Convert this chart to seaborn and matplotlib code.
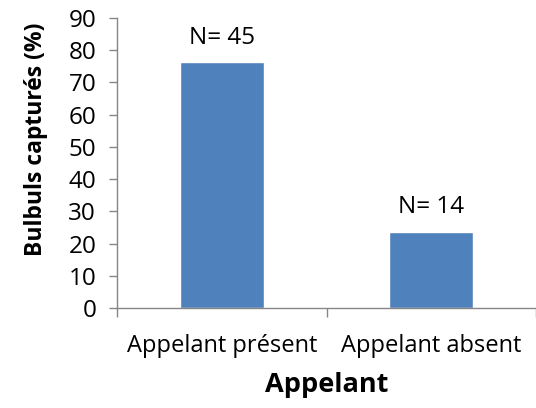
import matplotlib
matplotlib.use("Agg")
import matplotlib.pyplot as plt
import seaborn as sns
import pandas as pd

categories = ["Appelant présent", "Appelant absent"]
pct_captured = [76.3, 23.7]
n_labels = ["N= 45", "N= 14"]
y_ticks = [0, 10, 20, 30, 40, 50, 60, 70, 80, 90]

df = pd.DataFrame({"Appelant": categories, "pct": pct_captured})

sns.set_theme(style="white", rc={"text.color": "black", "axes.labelcolor": "black",
                                 "xtick.color": "black", "ytick.color": "black"})
plt.rcParams["font.family"] = ["Open Sans", "DejaVu Sans"]

fig = plt.figure(figsize=(5.36, 4.08), dpi=100)
ax = fig.add_axes([117 / 536, 100 / 408, 419 / 536, 290 / 408])

sns.barplot(data=df, x="Appelant", y="pct", color="#4F81BD", saturation=1,
            width=0.4, ax=ax)

for i, (v, lab) in enumerate(zip(pct_captured, n_labels)):
    ax.text(i, v + 7.5, lab, ha="center", va="center", fontsize=17.5, color="black")

ax.set_ylim(0, 90)
ax.set_xlim(-0.5, 1.5 - 9 / 214)
ax.set_yticks(y_ticks)
ax.set_xticks([-0.5, 0.5, 1.5], minor=True)

grey = "#868686"
sns.despine(ax=ax)
for s in ["left", "bottom"]:
    ax.spines[s].set_color(grey)
    ax.spines[s].set_linewidth(1)

ax.tick_params(axis="y", which="major", length=6, color=grey, width=1,
               labelsize=17.5, labelcolor="black", pad=9, left=True)
ax.tick_params(axis="x", which="major", length=0, labelsize=17,
               labelcolor="black", pad=19)
ax.tick_params(axis="x", which="minor", length=6.5, color=grey, width=1,
               bottom=True)

ax.set_ylabel("Bulbuls capturés (%)", fontsize=16.5, fontweight="bold")
ax.yaxis.set_label_coords(-0.165, 0.58)
ax.set_xlabel("Appelant", fontsize=19.5, fontweight="bold", labelpad=10)

fig.savefig("out.png", dpi=100)
